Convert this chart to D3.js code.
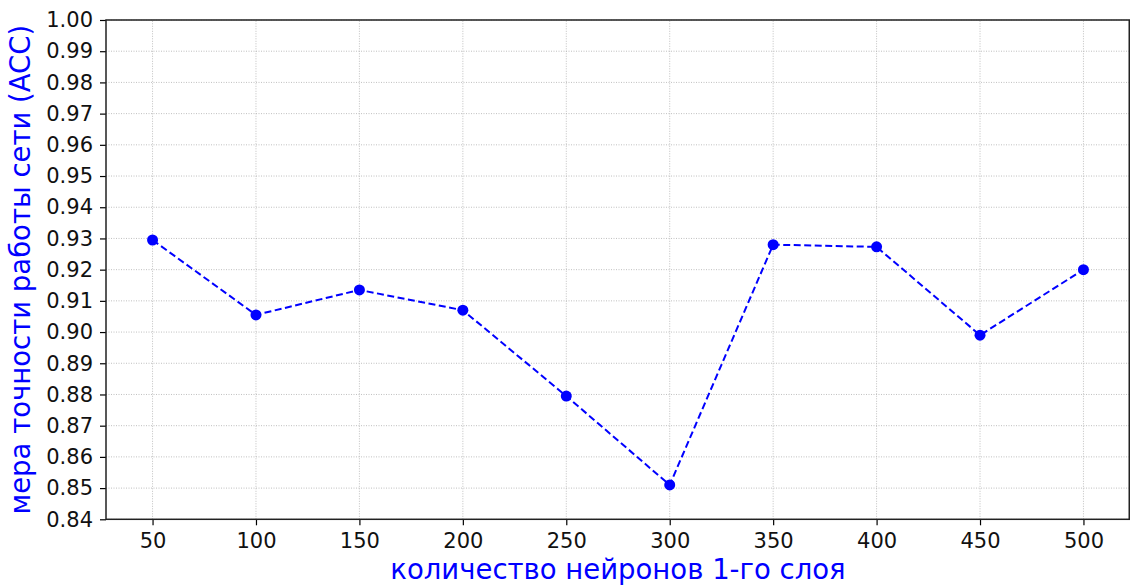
<!DOCTYPE html>
<html>
<head>
<meta charset="utf-8">
<script src="https://cdn.jsdelivr.net/npm/d3@7"></script>
<style>
  body { margin: 0; background: #fff; }
  svg { display: block; font-family: "DejaVu Sans", sans-serif; }
</style>
</head>
<body>
<div id="chart"></div>
<script>
const neurons = [50, 100, 150, 200, 250, 300, 350, 400, 450, 500];
const accuracy = [0.9295, 0.9055, 0.9135, 0.907, 0.8795, 0.851, 0.928, 0.9273, 0.899, 0.920];
const yTicks = d3.range(0.84, 1.0001, 0.01);
const xLabel = "количество нейронов 1-го слоя";
const yLabel = "мера точности работы сети (ACC)";

const width = 1131, height = 587;
const margin = { top: 20, right: 1, bottom: 68, left: 106 };

const svg = d3.select("#chart").append("svg")
  .attr("width", width)
  .attr("height", height);

const x = d3.scaleLinear()
  .domain([27.5, 522.5])
  .range([margin.left, width - margin.right]);
const y = d3.scaleLinear()
  .domain([0.84, 1.0])
  .range([height - margin.bottom + 0.3, margin.top]);

const g = svg.append("g");

// grid
g.append("g")
  .selectAll("line")
  .data(neurons)
  .join("line")
  .attr("x1", d => x(d)).attr("x2", d => x(d))
  .attr("y1", y(0.84)).attr("y2", y(1.0))
  .attr("stroke", "#b0b0b0")
  .attr("stroke-width", 0.8)
  .attr("stroke-dasharray", "1,1.5");
g.append("g")
  .selectAll("line")
  .data(yTicks)
  .join("line")
  .attr("x1", x.range()[0]).attr("x2", x.range()[1])
  .attr("y1", d => y(d)).attr("y2", d => y(d))
  .attr("stroke", "#b0b0b0")
  .attr("stroke-width", 0.8)
  .attr("stroke-dasharray", "1,1.5");

// axes
const xAxis = d3.axisBottom(x).tickValues(neurons).tickSize(6).tickPadding(8);
const yAxis = d3.axisLeft(y).tickValues(yTicks).tickSize(6).tickPadding(7)
  .tickFormat(d3.format(".2f"));

const gx = svg.append("g")
  .attr("transform", `translate(0,${y(0.84)})`)
  .call(xAxis);
const gy = svg.append("g")
  .attr("transform", `translate(${x.range()[0]},0)`)
  .call(yAxis);

[gx, gy].forEach(a => {
  a.select(".domain").remove();
  a.selectAll(".tick line").attr("stroke", "#000").attr("stroke-width", 1.2);
  a.selectAll(".tick text")
    .attr("fill", "#111")
    .style("font-size", "21px")
    .style("font-family", "DejaVu Sans");
});

// frame
svg.append("rect")
  .attr("x", x.range()[0])
  .attr("y", y(1.0))
  .attr("width", x.range()[1] - x.range()[0] - 0.75)
  .attr("height", y(0.84) - y(1.0))
  .attr("fill", "none")
  .attr("stroke", "#222")
  .attr("stroke-width", 1.5);

// line + markers
const line = d3.line()
  .x((d, i) => x(neurons[i]))
  .y(d => y(d));

svg.append("path")
  .datum(accuracy)
  .attr("d", line)
  .attr("fill", "none")
  .attr("stroke", "#0000ff")
  .attr("stroke-width", 2)
  .attr("stroke-dasharray", "7,3.5");

svg.append("g")
  .selectAll("circle")
  .data(accuracy)
  .join("circle")
  .attr("cx", (d, i) => x(neurons[i]))
  .attr("cy", d => y(d))
  .attr("r", 5.5)
  .attr("fill", "#0000ff");

// labels
svg.append("text")
  .attr("x", (x.range()[0] + x.range()[1]) / 2)
  .attr("y", 579)
  .attr("text-anchor", "middle")
  .attr("fill", "#0000ff")
  .style("font-size", "27.5px")
  .text(xLabel);

svg.append("text")
  .attr("transform", `translate(30,${(y(0.84) + y(1.0)) / 2}) rotate(-90)`)
  .attr("text-anchor", "middle")
  .attr("fill", "#0000ff")
  .style("font-size", "27.5px")
  .text(yLabel);
</script>
</body>
</html>
